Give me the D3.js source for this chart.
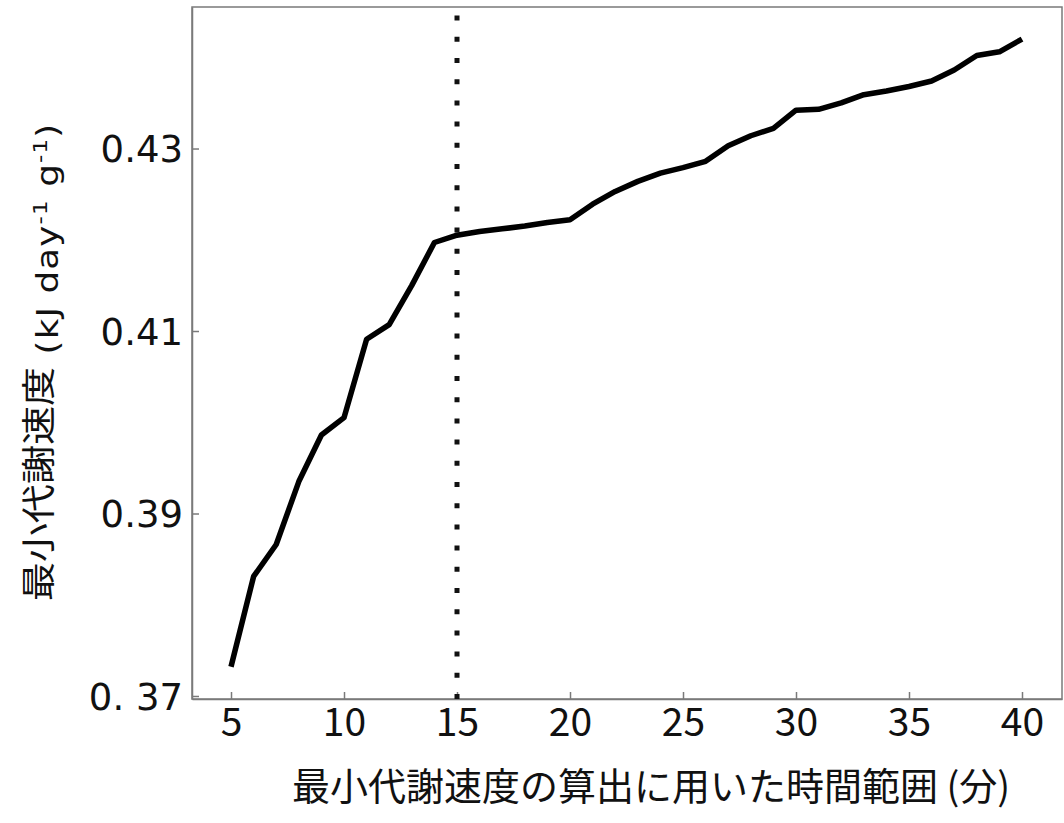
<!DOCTYPE html>
<html>
<head>
<meta charset="utf-8">
<script src="https://cdn.jsdelivr.net/npm/d3@7"></script>
<style>
  html, body { margin: 0; padding: 0; background: #fff; }
  svg { display: block; }
  text { font-family: "Noto Sans CJK JP", "Noto Sans", sans-serif; fill: #111; }
</style>
</head>
<body>
<svg id="chart" width="1064" height="823"></svg>
<script>
// Time window used to compute the minimum metabolic rate (minutes)
const minutes = [5, 6, 7, 8, 9, 10, 11, 12, 13, 14, 15, 16, 17, 18, 19, 20, 21, 22,
                 23, 24, 25, 26, 27, 28, 29, 30, 31, 32, 33, 34, 35, 36, 37, 38, 39, 40];
// Minimum metabolic rate (kJ day^-1 g^-1)
const rates = [0.3732, 0.3831, 0.3866, 0.3935, 0.3986, 0.4005, 0.4091, 0.4107, 0.4150,
               0.4197, 0.4205, 0.4209, 0.4212, 0.4215, 0.4219, 0.4222, 0.4239, 0.4253,
               0.4264, 0.4273, 0.4279, 0.4286, 0.4303, 0.4314, 0.4322, 0.4342, 0.4343,
               0.4350, 0.4359, 0.4363, 0.4368, 0.4374, 0.4386, 0.4402, 0.4406, 0.4420];
// Chosen window marked by the dotted line
const chosenWindow = 15;

const xTicks = [5, 10, 15, 20, 25, 30, 35, 40];
const xTickLabels = ["5", "10", "15", "20", "25", "30", "35", "40"];
const yTicks = [0.37, 0.39, 0.41, 0.43];
const yTickLabels = ["0. 37", "0.39", "0.41", "0.43"];

const svg = d3.select("#chart");
const plotLeft = 192, plotRight = 1062, plotTop = 7, plotBottom = 699;

const x = d3.scaleLinear().domain([3.274, 41.77]).range([plotLeft, plotRight]);
const y = d3.scaleLinear().domain([0.36967, 0.44551]).range([plotBottom, plotTop]);

const axisGrey = "#7a7a7a";
const latinFont = '"DejaVu Sans", "Noto Sans CJK JP", sans-serif';

// plot frame
svg.append("rect")
  .attr("x", plotLeft).attr("y", plotTop)
  .attr("width", plotRight - plotLeft).attr("height", plotBottom - plotTop)
  .attr("fill", "none").attr("stroke", axisGrey).attr("stroke-width", 1.5);

// x axis (ticks point inward)
const xAxis = svg.append("g")
  .attr("transform", `translate(0,${plotBottom})`)
  .call(d3.axisBottom(x).tickValues(xTicks)
    .tickFormat((d, i) => xTickLabels[i])
    .tickSizeInner(-7).tickSizeOuter(0).tickPadding(0));
xAxis.select(".domain").attr("stroke", axisGrey).attr("stroke-width", 1.5);
xAxis.selectAll(".tick line").attr("stroke", axisGrey).attr("stroke-width", 1.5);
xAxis.selectAll(".tick text")
  .attr("y", 37).attr("dy", 0)
  .style("font-family", '"Noto Sans CJK JP", "Noto Sans", sans-serif')
  .style("font-size", "39px").attr("fill", "#111");

// y axis
const yAxis = svg.append("g")
  .attr("transform", `translate(${plotLeft},0)`)
  .call(d3.axisLeft(y).tickValues(yTicks)
    .tickFormat((d, i) => yTickLabels[i])
    .tickSizeInner(-7).tickSizeOuter(0).tickPadding(0));
yAxis.select(".domain").attr("stroke", axisGrey).attr("stroke-width", 1.5);
yAxis.selectAll(".tick text")
  .attr("x", -9).attr("dy", "0.36em")
  .style("font-family", latinFont)
  .style("font-size", "37px").attr("fill", "#111");
yAxis.selectAll(".tick line").attr("stroke", axisGrey).attr("stroke-width", 1.5);

// dotted marker at the chosen window
svg.append("line")
  .attr("x1", x(chosenWindow)).attr("x2", x(chosenWindow))
  .attr("y1", plotBottom).attr("y2", plotTop)
  .attr("stroke", "#111").attr("stroke-width", 5)
  .attr("stroke-dasharray", "5,16.2");

// rate curve
const line = d3.line().x((d, i) => x(minutes[i])).y(d => y(d));
svg.append("path")
  .datum(rates)
  .attr("d", line)
  .attr("fill", "none").attr("stroke", "#000")
  .attr("stroke-width", 5.5)
  .attr("stroke-linejoin", "round").attr("stroke-linecap", "butt");

// x axis title
svg.append("text")
  .attr("x", 651).attr("y", 800)
  .attr("text-anchor", "middle")
  .style("font-size", "38px")
  .text("最小代謝速度の算出に用いた時間範囲 (分)");

// y axis title, stretched slightly along its reading direction
const yTitle = svg.append("text")
  .attr("transform", "translate(51,362) rotate(-90) scale(1.15,1)")
  .attr("text-anchor", "middle")
  .style("font-size", "34px");
yTitle.append("tspan").text("最小代謝速度");
const latin = { "font-family": latinFont, "font-size": "31px", "letter-spacing": "1px" };
const sup = { "font-family": latinFont, "font-size": "20px", "letter-spacing": "1px" };
function addSpan(txt, style, isSup, dy) {
  const t = yTitle.append("tspan").text(txt);
  Object.entries(style).forEach(([k, v]) => t.style(k, v));
  if (isSup) t.attr("baseline-shift", "super");
  if (dy) t.attr("dy", dy);
  return t;
}
addSpan(" (kJ day", latin, false, 7);
addSpan("-1", sup, true);
addSpan(" g", latin, false);
addSpan("-1", sup, true);
addSpan(")", latin, false);
</script>
</body>
</html>
